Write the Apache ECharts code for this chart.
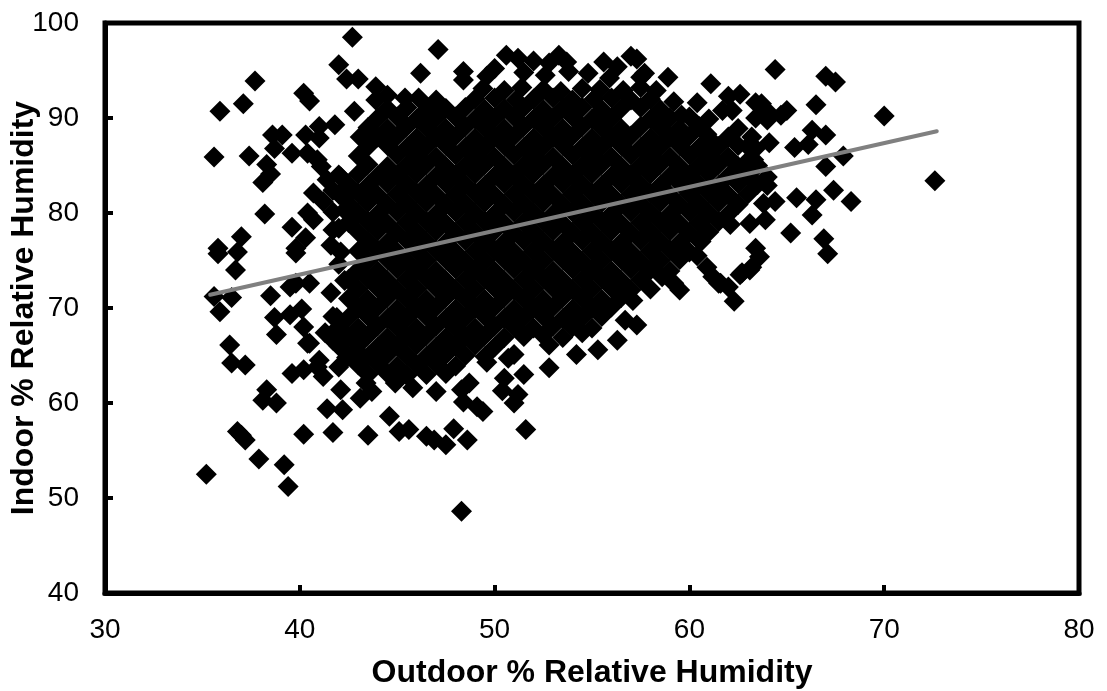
<!DOCTYPE html>
<html>
<head>
<meta charset="utf-8">
<title>Indoor vs outdoor humidity</title>
<script src="https://cdn.jsdelivr.net/npm/echarts@6/dist/echarts.min.js"></script>
<style>
  html, body { margin: 0; padding: 0; background: #fff; }
  #chart { width: 1107px; height: 691px; }
</style>
</head>
<body>
<div id="chart"></div>
<script>
const xTicks = [30, 40, 50, 60, 70, 80];
const yTicks = [40, 50, 60, 70, 80, 90, 100];
const xTitle = "Outdoor % Relative Humidity";
const yTitle = "Indoor % Relative Humidity";

// [outdoor, indoor] read one by one off the edge of the cloud
const edgePoints = [
  [35.2,52.5],[39.4,51.2],[39.2,53.5],[37.9,54.1],[37.2,56.1],[37.0,56.6],[36.8,57.0],[40.2,56.7],[41.7,56.9],[43.5,56.6],
  [44.6,58.6],[45.1,57.0],[45.6,57.2],[46.5,56.5],[41.4,59.4],[42.2,59.3],[38.3,61.4],[38.1,60.3],[38.8,60.0],[36.4,66.1],
  [36.5,64.2],[37.2,64.0],[35.6,71.2],[36.5,71.1],[35.9,69.6],[38.5,71.3],[38.7,69.0],[38.8,67.2],[39.5,69.3],[40.1,69.9],
  [40.2,68.0],[35.8,75.7],[36.8,75.9],[36.7,74.0],[39.8,75.8],[42.7,98.5],[42.0,95.6],[42.4,94.1],[43.0,94.1],[37.7,93.9],
  [37.1,91.5],[35.9,90.7],[35.6,85.9],[37.4,86.0],[40.2,92.6],[40.5,91.8],[42.8,90.7],[38.6,88.2],[39.1,88.2],[38.7,86.8],
  [38.2,79.9],[38.3,85.1],[38.5,84.1],[38.1,83.2],[39.6,86.3],[40.3,88.2],[41.0,89.1],[41.8,89.3],[41.0,87.9],[40.4,86.3],
  [40.9,85.6],[41.1,84.9],[41.4,83.5],[41.7,82.4],[40.7,82.1],[41.2,81.2],[40.4,80.0],[40.7,79.3],[41.7,80.1],[39.6,78.5],
  [40.3,77.4],[37.0,77.5],[35.8,76.3],[42.0,78.4],[41.6,76.6],[39.8,76.3],[39.6,63.1],[40.2,63.5],[41.2,62.8],[42.1,61.4],
  [43.1,60.5],[43.7,61.2],[44.9,62.1],[45.8,61.6],[40.4,66.3],[41.3,67.4],[41.0,64.5],[42.0,63.8],[42.9,65.6],[39.5,72.2],
  [40.5,72.6],[41.6,71.6],[41.9,69.0],[48.3,48.6],[51.6,57.2],[47.9,57.3],[48.6,56.1],[47.5,55.6],[46.9,56.1],[49.4,59.1],
  [49.1,59.6],[48.4,60.1],[48.3,61.4],[48.7,62.1],[50.4,61.3],[50.5,62.6],[51.5,63.0],[51.2,60.9],[51.0,60.0],[51.0,65.1],
  [50.7,64.7],[52.8,63.7],[54.2,65.1],[55.3,65.6],[56.3,66.6],[57.3,68.2],[56.7,68.7],[59.5,71.9],[62.3,70.7],[58.6,73.3],
  [61.6,72.6],[62.6,73.5],[63.1,74.0],[49.6,64.3],[47.0,61.2],[52.8,66.1],[54.5,67.4],[57.1,70.8],[64.4,95.1],[67.0,94.4],
  [67.5,93.8],[66.5,91.4],[70.0,90.2],[72.6,83.4],[66.3,88.7],[67.0,88.2],[65.4,86.9],[66.1,87.2],[67.9,86.0],[67.0,84.9],
  [67.4,82.4],[68.3,81.2],[65.5,81.6],[66.5,81.4],[66.3,79.8],[65.2,77.9],[66.9,77.3],[67.1,75.7],[61.1,93.6],[62.6,92.5],
  [62.0,92.3],[62.2,90.8],[61.7,90.8],[63.7,91.5],[64.0,90.7],[64.7,90.3],[65.0,90.8],[63.4,90.0],[64.0,89.8],[63.2,88.0],
  [63.4,86.8],[63.3,85.6],[62.9,85.3],[64.0,83.8],[64.0,82.9],[64.4,81.2],[63.8,81.0],[63.9,79.3],[63.1,78.9],[62.1,78.8],
  [63.4,76.3],[63.6,75.4],[63.2,74.3],[62.7,73.7],[60.9,74.3],[61.2,73.3],[61.5,72.6],[62.0,72.2],[60.6,77.0],[47.1,97.2],
  [48.4,94.9],[48.4,94.0],[50.6,96.6],[51.2,96.3],[50.0,95.2],[52.0,96.0],[53.3,96.6],[52.8,95.8],[53.7,95.9],[53.8,94.9],
  [55.6,95.9],[54.8,94.7],[56.3,95.4],[57.0,96.5],[57.3,96.2],[57.7,94.7],[58.9,94.3],[57.5,94.3],[59.2,91.7],[60.4,91.6],
  [43.9,93.3],[44.5,92.4],[45.4,92.1],[46.2,94.7],[63.4,91.6],
  [43.9,91.9],[43.1,88.0],[42.1,83.8],[42.6,82.1],[42.3,80.3],[41.7,78.2],[39.8,72.6],[41.7,69.1],[40.5,66.3],
  [41.7,66.6],[42.4,64.8],[40.9,63.8],[43.4,62.1],[42.0,74.6],[42.3,72.9],[42.1,75.9],[49.6,94.4],[51.5,94.8],
  [52.6,94.5],[55.9,94.2],[59.6,90.3],[60.9,88.3],[64.1,87.4],[63.0,87.0],[60.4,75.5],[59.2,72.6]
];

// the solid middle cannot be told apart point by point, so these are placed by eye to give the same coverage
const corePoints = [
  [49.4,93.1],[50.5,92.9],[51.4,93.2],[52.5,93.0],[53.4,92.8],[54.5,93.1],[55.4,93.0],[56.6,92.9],[57.5,93.2],[58.3,92.9],
  [46.1,92.1],[47.0,91.9],[49.0,92.0],[50.0,92.1],[51.1,91.9],[52.0,92.0],[53.0,92.1],[54.0,91.9],[55.1,92.0],[56.0,92.1],[57.0,91.9],[58.0,92.0],
  [44.5,91.0],[45.5,91.1],[46.5,90.9],[47.5,91.0],[48.5,91.1],[49.5,90.9],[50.5,91.0],[51.5,91.1],[52.5,90.9],[53.5,91.0],[54.5,91.1],[55.5,90.9],[56.5,91.0],[57.5,91.1],[58.5,90.9],
  [44.0,90.0],[45.0,90.1],[46.0,89.9],[47.0,90.0],[48.0,90.1],[49.0,89.9],[50.0,90.0],[51.0,90.1],[52.0,89.9],[53.0,90.0],[54.0,90.1],[55.0,89.9],[56.0,90.0],[58.0,89.9],[59.0,90.0],[60.0,90.1],[61.0,89.9],
  [43.5,89.0],[44.5,88.9],[45.5,89.1],[46.5,89.0],[47.5,88.9],[48.5,89.1],[49.5,89.0],[50.5,88.9],[51.5,89.1],[52.5,89.0],[53.5,88.9],[54.5,89.1],[55.5,89.0],[56.5,88.9],[57.5,89.1],[58.5,89.0],[59.5,88.9],[60.5,89.1],[62.5,88.9],
  [44.0,88.0],[45.0,88.1],[46.0,87.9],[47.0,88.0],[48.0,88.1],[49.0,87.9],[50.0,88.0],[51.0,88.1],[52.0,87.9],[53.0,88.0],[54.0,88.1],[55.0,87.9],[56.0,88.0],[57.0,88.1],[58.0,87.9],[59.0,88.0],[60.0,88.1],[61.0,87.9],[62.0,88.0],
  [43.5,87.0],[44.5,87.1],[45.5,86.9],[46.5,87.0],[47.5,87.1],[48.5,86.9],[49.5,87.0],[50.5,87.1],[51.5,86.9],[52.5,87.0],[53.5,87.1],[54.5,86.9],[55.5,87.0],[56.5,87.1],[57.5,86.9],[58.5,87.0],[59.5,87.1],[60.5,86.9],[61.5,87.0],[62.5,87.1],
  [43.0,86.0],[45.0,86.1],[46.0,86.0],[47.0,85.9],[48.0,86.1],[49.0,86.0],[50.0,85.9],[51.0,86.1],[52.0,86.0],[53.0,85.9],[54.0,86.1],[55.0,86.0],[56.0,85.9],[57.0,86.1],[58.0,86.0],[59.0,85.9],[60.0,86.1],[61.0,86.0],[62.0,85.9],
  [43.5,85.1],[44.5,84.9],[45.5,85.0],[46.5,85.1],[47.5,84.9],[48.5,85.0],[49.5,85.1],[50.5,84.9],[51.5,85.0],[52.5,85.1],[53.5,84.9],[54.5,85.0],[55.5,85.1],[56.5,84.9],[57.5,85.0],[58.5,85.1],[59.5,84.9],[60.5,85.0],[61.5,85.1],[62.5,84.9],[63.5,85.0],
  [42.0,84.0],[43.0,84.1],[44.0,83.9],[45.0,84.0],[46.0,84.1],[47.0,83.9],[48.0,84.0],[49.0,84.1],[50.0,83.9],[51.0,84.0],[52.0,84.1],[53.0,83.9],[54.0,84.0],[55.0,84.1],[56.0,83.9],[57.0,84.0],[58.0,84.1],[59.0,83.9],[60.0,84.0],[61.0,84.1],[62.0,83.9],[63.0,84.0],
  [42.5,83.0],[43.5,82.9],[44.5,83.1],[45.5,83.0],[46.5,82.9],[47.5,83.1],[48.5,83.0],[49.5,82.9],[50.5,83.1],[51.5,83.0],[52.5,82.9],[53.5,83.1],[54.5,83.0],[55.5,82.9],[56.5,83.1],[57.5,83.0],[58.5,82.9],[59.5,83.1],[60.5,83.0],[61.5,82.9],[62.5,83.1],[63.5,83.0],
  [42.0,82.0],[43.0,82.1],[44.0,81.9],[45.0,82.0],[46.0,82.1],[47.0,81.9],[48.0,82.0],[49.0,82.1],[50.0,81.9],[51.0,82.0],[52.0,82.1],[53.0,81.9],[54.0,82.0],[55.0,82.1],[56.0,81.9],[57.0,82.0],[58.0,82.1],[59.0,81.9],[60.0,82.0],[61.0,82.1],[62.0,81.9],[63.0,82.0],
  [42.5,81.0],[43.5,81.1],[44.5,80.9],[45.5,81.0],[46.5,81.1],[47.5,80.9],[48.5,81.0],[49.5,81.1],[50.5,80.9],[51.5,81.0],[52.5,81.1],[53.5,80.9],[54.5,81.0],[55.5,81.1],[56.5,80.9],[57.5,81.0],[58.5,81.1],[59.5,80.9],[60.5,81.0],[61.5,81.1],[62.5,80.9],
  [43.0,80.0],[44.0,79.9],[45.0,80.1],[46.0,80.0],[47.0,79.9],[48.0,80.1],[49.0,80.0],[50.0,79.9],[51.0,80.1],[52.0,80.0],[53.0,79.9],[54.0,80.1],[55.0,80.0],[56.0,79.9],[57.0,80.1],[58.0,80.0],[59.0,79.9],[60.0,80.1],[61.0,80.0],[62.0,79.9],
  [42.5,79.0],[43.5,79.1],[44.5,78.9],[45.5,79.0],[46.5,79.1],[47.5,78.9],[48.5,79.0],[49.5,79.1],[50.5,78.9],[51.5,79.0],[52.5,79.1],[53.5,78.9],[54.5,79.0],[55.5,79.1],[56.5,78.9],[57.5,79.0],[58.5,79.1],[59.5,78.9],[60.5,79.0],[61.5,79.1],
  [43.0,78.0],[44.0,78.1],[45.0,77.9],[46.0,78.0],[47.0,78.1],[48.0,77.9],[49.0,78.0],[50.0,78.1],[51.0,77.9],[52.0,78.0],[53.0,78.1],[54.0,77.9],[55.0,78.0],[56.0,78.1],[57.0,77.9],[58.0,78.0],[59.0,78.1],[60.0,77.9],[61.0,78.0],
  [43.5,77.0],[44.5,76.9],[45.5,77.1],[46.5,77.0],[47.5,76.9],[48.5,77.1],[49.5,77.0],[50.5,76.9],[51.5,77.1],[52.5,77.0],[53.5,76.9],[54.5,77.1],[55.5,77.0],[56.5,76.9],[57.5,77.1],[58.5,77.0],[59.5,76.9],[60.5,77.1],
  [43.0,76.0],[44.0,76.1],[45.0,75.9],[46.0,76.0],[47.0,76.1],[48.0,75.9],[49.0,76.0],[50.0,76.1],[51.0,75.9],[52.0,76.0],[53.0,76.1],[54.0,75.9],[55.0,76.0],[56.0,76.1],[57.0,75.9],[58.0,76.0],[59.0,76.1],[60.0,75.9],
  [43.5,75.0],[44.5,75.1],[45.5,74.9],[46.5,75.0],[47.5,75.1],[48.5,74.9],[49.5,75.0],[50.5,75.1],[51.5,74.9],[52.5,75.0],[53.5,75.1],[54.5,74.9],[55.5,75.0],[56.5,75.1],[57.5,74.9],[58.5,75.0],[59.5,75.1],
  [43.0,74.0],[44.0,73.9],[45.0,74.1],[46.0,74.0],[47.0,73.9],[48.0,74.1],[49.0,74.0],[50.0,73.9],[51.0,74.1],[52.0,74.0],[53.0,73.9],[54.0,74.1],[55.0,74.0],[56.0,73.9],[57.0,74.1],[58.0,74.0],[59.0,73.9],
  [42.5,73.0],[43.5,73.1],[44.5,72.9],[45.5,73.0],[46.5,73.1],[47.5,72.9],[48.5,73.0],[49.5,73.1],[50.5,72.9],[51.5,73.0],[52.5,73.1],[53.5,72.9],[54.5,73.0],[55.5,73.1],[56.5,72.9],[57.5,73.0],
  [43.0,72.0],[44.0,72.1],[45.0,71.9],[46.0,72.0],[47.0,72.1],[48.0,71.9],[49.0,72.0],[50.0,72.1],[51.0,71.9],[52.0,72.0],[53.0,72.1],[54.0,71.9],[55.0,72.0],[56.0,72.1],[57.0,71.9],[58.0,72.0],
  [42.5,71.0],[43.5,70.9],[44.5,71.1],[45.5,71.0],[46.5,70.9],[47.5,71.1],[48.5,71.0],[49.5,70.9],[50.5,71.1],[51.5,71.0],[52.5,70.9],[53.5,71.1],[54.5,71.0],[55.5,70.9],[56.5,71.1],
  [43.0,70.0],[44.0,70.1],[45.0,69.9],[46.0,70.0],[47.0,70.1],[48.0,69.9],[49.0,70.0],[50.0,70.1],[51.0,69.9],[52.0,70.0],[53.0,70.1],[54.0,69.9],[55.0,70.0],[56.0,70.1],
  [42.5,69.0],[43.5,69.1],[44.5,68.9],[45.5,69.0],[46.5,69.1],[47.5,68.9],[48.5,69.0],[49.5,69.1],[50.5,68.9],[51.5,69.0],[52.5,69.1],[53.5,68.9],[54.5,69.0],[55.5,69.1],
  [42.0,68.0],[43.0,67.9],[44.0,68.1],[45.0,68.0],[46.0,67.9],[47.0,68.1],[48.0,68.0],[49.0,67.9],[50.0,68.1],[51.0,68.0],[52.0,67.9],[53.0,68.1],[54.0,68.0],[55.0,67.9],
  [42.5,67.0],[43.5,67.1],[44.5,66.9],[45.5,67.0],[46.5,67.1],[47.5,66.9],[48.5,67.0],[49.5,67.1],[50.5,66.9],[51.5,67.0],[52.5,67.1],[53.5,66.9],
  [42.0,66.0],[43.0,66.1],[44.0,65.9],[45.0,66.0],[46.0,66.1],[47.0,65.9],[48.0,66.0],[49.0,66.1],[50.0,65.9],
  [42.5,65.0],[43.5,64.9],[44.5,65.1],[45.5,65.0],[46.5,64.9],[47.5,65.1],[48.5,65.0],[49.5,64.9],
  [43.0,64.0],[44.0,64.1],[45.0,63.9],[46.0,64.0],[47.0,64.1],[48.0,63.9],
  [43.5,63.0],[44.5,63.1],[45.5,62.9],[46.5,63.0],[47.5,63.1]
];

// fitted line, ends
const trendLine = [[35.4,71.4],[72.7,88.6]];

const chart = echarts.init(document.getElementById("chart"), null, { renderer: "canvas" });

const labelFont = { color: "#000", fontFamily: "Liberation Sans", fontSize: 28 };
const titleFont = { color: "#000", fontFamily: "Liberation Sans", fontSize: 32, fontWeight: "bold" };
const axisStroke = { color: "#000", width: 5 };
const tickStroke = { color: "#000", width: 4 };

chart.setOption({
  animation: false,
  backgroundColor: "#fff",
  grid: {
    left: 105, right: 28, top: 23, bottom: 98,
    outerBoundsMode: "none",
    show: true, borderColor: "#000", borderWidth: 5, backgroundColor: "#fff"
  },
  xAxis: {
    type: "value",
    min: xTicks[0],
    max: xTicks[xTicks.length - 1],
    interval: 10,
    name: xTitle,
    nameLocation: "middle",
    nameGap: 64,
    nameMoveOverlap: false,
    nameTextStyle: titleFont,
    axisLine: { show: true, lineStyle: axisStroke },
    axisTick: { show: true, inside: true, length: 8, lineStyle: tickStroke },
    axisLabel: { ...labelFont, margin: 23 },
    splitLine: { show: false }
  },
  yAxis: {
    type: "value",
    min: yTicks[0],
    max: yTicks[yTicks.length - 1],
    interval: 10,
    name: yTitle,
    nameLocation: "middle",
    nameGap: 65,
    nameMoveOverlap: false,
    nameTextStyle: titleFont,
    axisLine: { show: true, lineStyle: axisStroke },
    axisTick: { show: true, inside: true, length: 8, lineStyle: tickStroke },
    axisLabel: { ...labelFont, margin: 26 },
    splitLine: { show: false }
  },
  series: [
    {
      type: "scatter",
      data: corePoints.concat(edgePoints),
      symbol: "diamond",
      symbolSize: 21,
      itemStyle: { color: "#000", opacity: 1 },
      silent: true
    },
    {
      type: "line",
      data: trendLine,
      showSymbol: false,
      lineStyle: { color: "#808080", width: 4, cap: "round" },
      silent: true,
      z: 5
    }
  ]
});

window.addEventListener("resize", function () {
  chart.resize();
});
</script>
</body>
</html>
